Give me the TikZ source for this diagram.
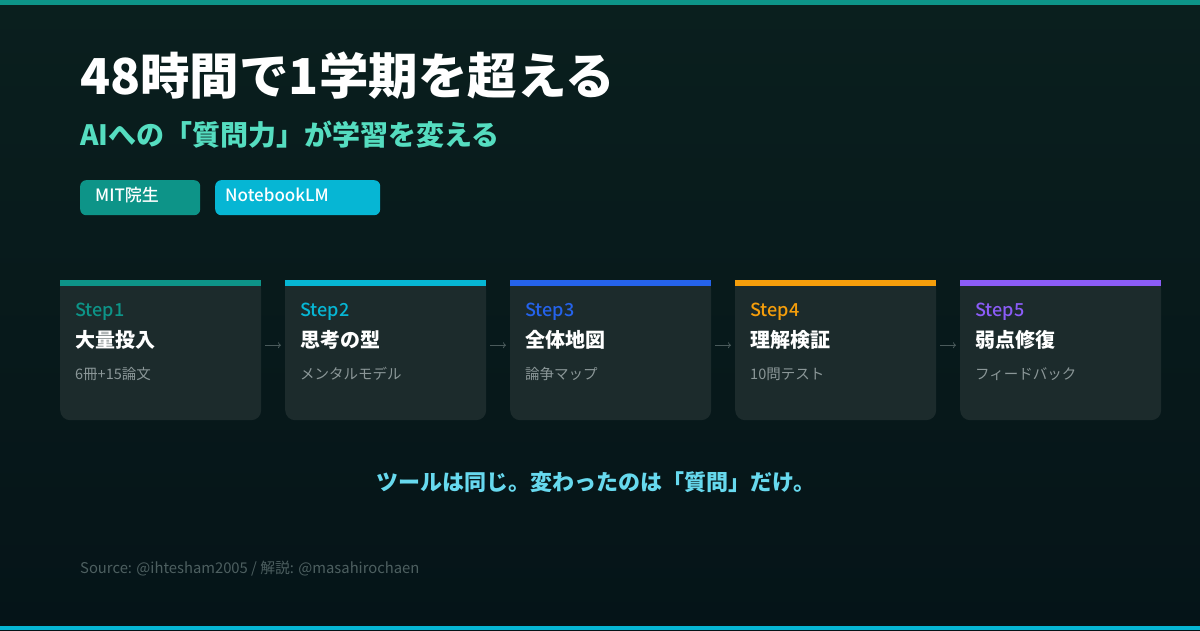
\documentclass[tikz,border=0pt]{standalone}
\usepackage{fontspec}
\setmainfont{Noto Sans CJK JP}
\newfontfamily\mediumfont{Noto Sans CJK JP Medium}
\usetikzlibrary{arrows.meta}
\definecolor{bgtop}{HTML}{0A1F1E}
\definecolor{bgbot}{HTML}{051418}
\definecolor{cardbg}{HTML}{1C2B2C}
\definecolor{cTeal}{HTML}{0D9488}
\definecolor{cCyan}{HTML}{06B6D4}
\definecolor{cBlue}{HTML}{2563EB}
\definecolor{cAmber}{HTML}{F59E0B}
\definecolor{cViolet}{HTML}{8B5CF6}
\definecolor{subcol}{HTML}{55DDC0}
\definecolor{tagline}{HTML}{67D9EE}
\definecolor{graytxt}{HTML}{8B9798}
\definecolor{srccol}{HTML}{4D5F60}
\definecolor{arrowcol}{HTML}{4A5A5B}
\tikzset{
  card/.style={fill=cardbg, rounded corners=10pt, minimum width=201pt, minimum height=140pt, inner sep=0pt},
  tagbox/.style={rounded corners=6pt, minimum height=35pt, inner sep=0pt},
  tagtext/.style={anchor=base west, inner sep=0pt, text=white, font=\mediumfont\fontsize{17}{20}\selectfont},
  steplbl/.style={anchor=base west, inner sep=0pt, font=\mediumfont\fontsize{18}{21}\selectfont},
  steptitle/.style={anchor=base west, inner sep=0pt, text=white, font=\fontsize{20}{24}\selectfont\bfseries},
  stepsub/.style={anchor=base west, inner sep=0pt, text=graytxt, font=\fontsize{14.5}{17}\selectfont},
  flow/.style={draw=arrowcol, line width=0.8pt, -{To[length=3pt,width=6pt]}, shorten <=4pt, shorten >=4pt},
}
\begin{document}
\begin{tikzpicture}[x=1pt,y=-1pt]
\useasboundingbox (0,0) rectangle (1200,630);
\shade[top color=bgtop, bottom color=bgbot] (0,0) rectangle (1200,630);
\fill[cTeal] (0,0) rectangle (1200,4.5);
\fill[cCyan] (0,626) rectangle (1200,630);

\node[anchor=base west, inner sep=0pt, text=white, font=\fontsize{49.5}{56}\selectfont\bfseries] (title) at (80,94) {48時間で1学期を超える};
\node[anchor=base west, inner sep=0pt, text=subcol, font=\fontsize{28}{32}\selectfont\bfseries] (subtitle) at (80,145) {AIへの「質問力」が学習を変える};

\node[tagbox, fill=cTeal, minimum width=120pt, anchor=north west] (tag1) at (80,180) {};
\node[tagtext] (tag1t) at (95,201) {MIT院生};
\node[tagbox, fill=cCyan, minimum width=165pt, anchor=north west] (tag2) at (215,180) {};
\node[tagtext] (tag2t) at (225,201) {NotebookLM};

\foreach \i/\x/\col/\ttl/\sub in {1/60/cTeal/大量投入/6冊+15論文, 2/285/cCyan/思考の型/メンタルモデル, 3/510/cBlue/全体地図/論争マップ, 4/735/cAmber/理解検証/10問テスト, 5/960/cViolet/弱点修復/フィードバック}{
  \node[card, anchor=north west] (c\i) at (\x,280) {};
  \fill[cardbg] (c\i.north west) rectangle ([yshift=-14pt]c\i.north east);
  \fill[\col] (c\i.north west) rectangle ([yshift=-6pt]c\i.north east);
  \node[steplbl, text=\col] (s\i) at (\x+15,316) {Step\i};
  \node[steptitle] (t\i) at (\x+15,347) {\ttl};
  \node[stepsub] (u\i) at (\x+15,379) {\sub};
}
\foreach \a/\b in {1/2,2/3,3/4,4/5}{
  \draw[flow] ([yshift=5pt]c\a.east) -- ([yshift=5pt]c\b.west);
}

\node[inner sep=0pt, text=tagline, font=\fontsize{22}{26}\selectfont\bfseries, anchor=base] (tag) at (596,490) {ツールは同じ。変わったのは「質問」だけ。};
\node[anchor=base west, inner sep=0pt, text=srccol, font=\fontsize{14.8}{17}\selectfont] (src) at (80,573) {Source: @ihtesham2005 / 解説: @masahirochaen};
\end{tikzpicture}
\end{document}
